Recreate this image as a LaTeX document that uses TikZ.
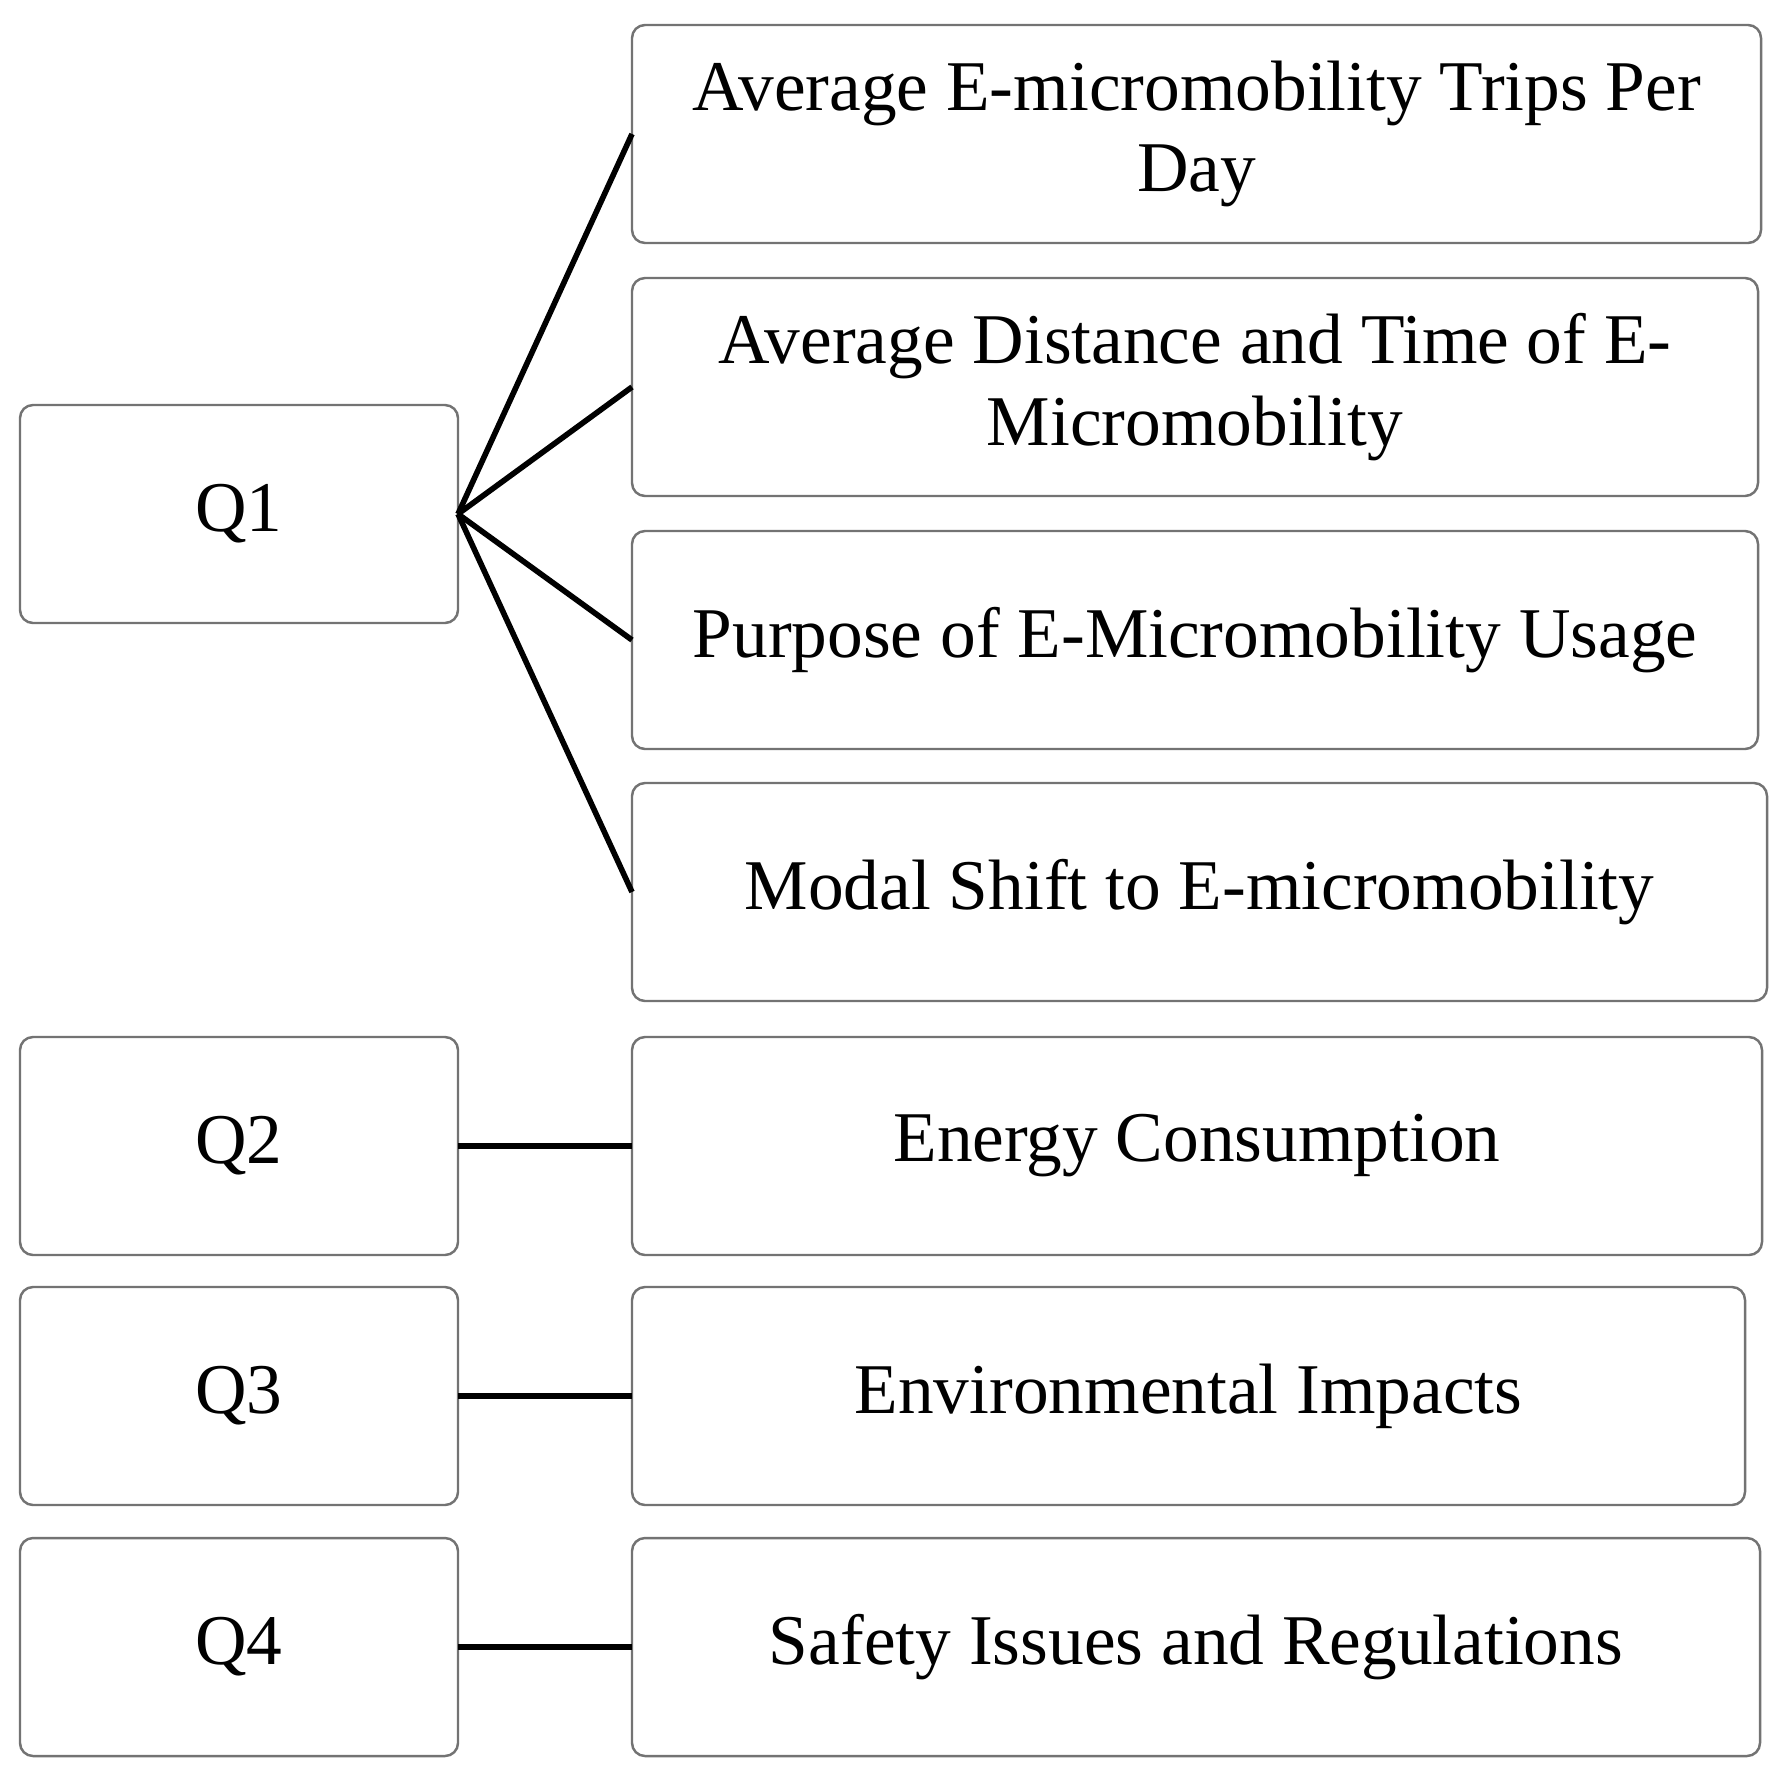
\documentclass[tikz,border=0pt]{standalone}
\usepackage{fontspec}
\setmainfont{Liberation Serif}
\usepackage{tikz}
\tikzset{
    boxnode/.style = {
        align=center,
        text centered,
        rectangle,
        rounded corners=1.3mm,
        draw=black!55,
        line width=0.7pt,
        minimum height=2.18cm,
        inner sep=1mm,
        outer sep=0mm,
        anchor=north west,
        font=\fontsize{20.3}{23.3}\selectfont
    },
    qnode/.style = {
        boxnode,
        minimum width=4.38cm
    },
    topicnode/.style = {
        boxnode,
        minimum width=11.29cm
    },
    link/.style = {
        draw=black,
        line width=1.6pt
    }
}

\begin{document}
\begin{tikzpicture}
            \useasboundingbox (0,0) rectangle (17.81,-17.90);
            % questions
            \node [qnode] (q1) at (0.20,-4.05) {Q1};
            \node [qnode] (q2) at (0.20,-10.37) {Q2};
            \node [qnode] (q3) at (0.20,-12.87) {Q3};
            \node [qnode] (q4) at (0.20,-15.38) {Q4};
            % topics
            \node [topicnode] (trips) at (6.32,-0.25) {Average E-micromobility Trips Per\\Day};
            \node [topicnode, minimum width=11.26cm] (dist) at (6.32,-2.78) {Average Distance and Time of E-\\Micromobility};
            \node [topicnode, minimum width=11.26cm] (purpose) at (6.32,-5.31) {Purpose of E-Micromobility Usage};
            \node [topicnode, minimum width=11.35cm] (modal) at (6.32,-7.83) {Modal Shift to E-micromobility};
            \node [topicnode, minimum width=11.30cm] (energy) at (6.32,-10.37) {Energy Consumption};
            \node [topicnode, minimum width=11.13cm] (env) at (6.32,-12.87) {Environmental Impacts};
            \node [topicnode, minimum width=11.28cm] (safety) at (6.32,-15.38) {Safety Issues and Regulations};
            % links
            \draw [link] (q1.east) -- (trips.west);
            \draw [link] (q1.east) -- (dist.west);
            \draw [link] (q1.east) -- (purpose.west);
            \draw [link] (q1.east) -- (modal.west);
            \draw [link] (q2.east) -- (energy.west);
            \draw [link] (q3.east) -- (env.west);
            \draw [link] (q4.east) -- (safety.west);
\end{tikzpicture}
\end{document}
